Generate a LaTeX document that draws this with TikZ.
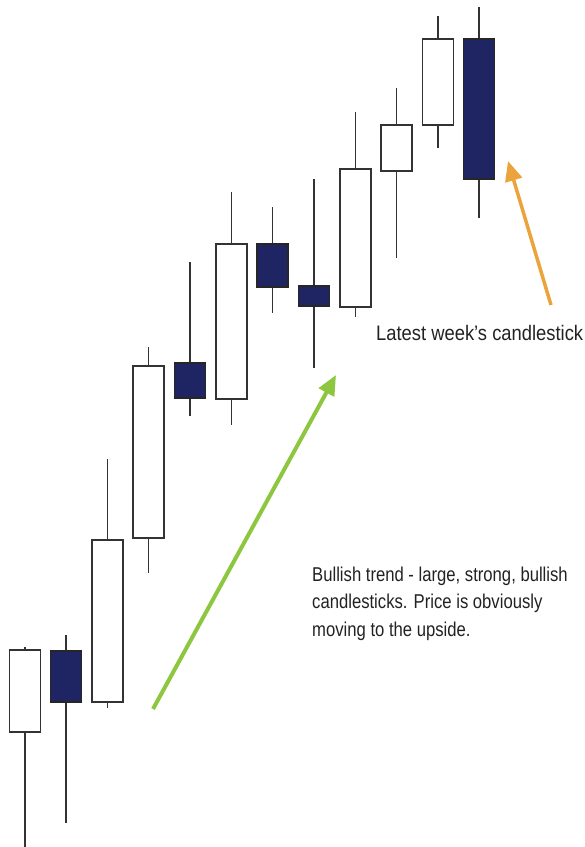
\documentclass[tikz,border=0pt]{standalone}
\usepackage{fontspec}
\usepackage{graphicx}
\setmainfont{Liberation Sans}
\usetikzlibrary{arrows.meta}
\definecolor{navy}{HTML}{1F2463}
\definecolor{edge}{HTML}{333333}
\definecolor{greenarrow}{HTML}{8DC63F}
\definecolor{orangearrow}{HTML}{EBA43C}
\definecolor{txt}{HTML}{222222}
\tikzset{
  wick/.style={draw=edge, line width=1.3pt},
  bodywhite/.style={draw=edge, line width=1.4pt, fill=white},
  bodydark/.style={draw=black!85, line width=1.4pt, fill=navy},
  label/.style={text=txt, anchor=west, inner sep=0pt, align=left, font=\fontsize{20}{27.5}\selectfont},
  trendarrow/.style={line width=4pt, -{Triangle[width=17pt,length=20pt]}}
}
\newcommand{\mycandle}[6]{%
  \draw[wick] (#1,#2) -- (#1,#5);
  \draw[#6] ({#1-15.5},#3) rectangle ({#1+15.5},#4);
}
\begin{document}
\begin{tikzpicture}[x=1pt,y=-1pt]
\useasboundingbox (0,0) rectangle (585,847);
\mycandle{25}{647}{650}{732}{847}{bodywhite}
\mycandle{66}{635}{651}{702}{823}{bodydark}
\mycandle{107.5}{459}{540}{702}{708}{bodywhite}
\mycandle{148.5}{347}{366}{538}{573}{bodywhite}
\mycandle{190}{262}{363}{398}{416}{bodydark}
\mycandle{231.5}{192}{244}{399}{425}{bodywhite}
\mycandle{272.5}{207}{244}{287}{313}{bodydark}
\mycandle{314}{179}{286}{306}{368}{bodydark}
\mycandle{355.5}{112}{169}{307}{317}{bodywhite}
\mycandle{396.5}{88}{125}{171}{258}{bodywhite}
\mycandle{438}{16}{39}{125}{148}{bodywhite}
\mycandle{479}{7}{39}{179}{218}{bodydark}
\coordinate (gtail) at (153,709);
\coordinate (gtip) at (336,375);
\coordinate (otail) at (551,305);
\coordinate (otip) at (508,161);
\draw[trendarrow, draw=greenarrow, fill=greenarrow] (gtail) -- (gtip);
\draw[trendarrow, line width=3.5pt, draw=orangearrow, fill=orangearrow] (otail) -- (otip);
\node[label, font=\fontsize{21}{27.5}\selectfont] (latest) at (376,333) {\scalebox{0.875}[1]{Latest week's candlestick}};
\node[label] (bullish) at (312,603) {\scalebox{0.833}[1]{\begin{tabular}{@{}l@{}}Bullish trend - large, strong, bullish\\candlesticks. Price is obviously\\moving to the upside.\end{tabular}}};
\end{tikzpicture}
\end{document}
